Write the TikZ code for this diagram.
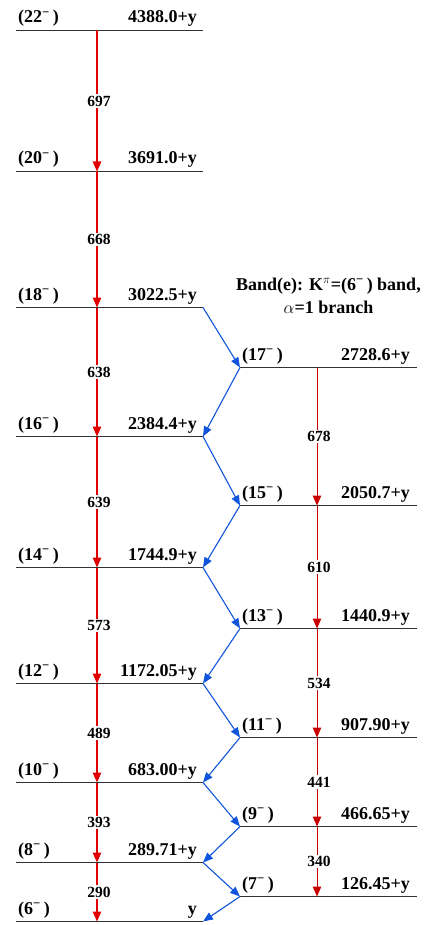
\documentclass[tikz,border=0pt]{standalone}
\usepackage{fontspec}
\setmainfont{Liberation Serif}
\usetikzlibrary{arrows.meta}
\definecolor{gred}{RGB}{225,0,0}
\definecolor{gdred}{RGB}{200,0,0}
\definecolor{gblue}{RGB}{17,85,221}
\definecolor{lvl}{RGB}{50,50,50}
\newcommand{\spinlab}[1]{(#1\textsuperscript{−}\,)}
\begin{document}
\begin{tikzpicture}[x=1pt,y=-1pt,
  level/.style={draw=lvl,line width=1.3pt},
  lab/.style={font=\fontsize{18}{20}\selectfont\bfseries,inner sep=0pt},
  glab/.style={font=\fontsize{15.5}{17}\selectfont\bfseries,fill=white,inner sep=1.5pt},
  redtr/.style={draw=gred,line width=1.3pt,-{Triangle[length=10pt,width=8.5pt]}},
  redtrr/.style={draw=gdred,line width=1.0pt,-{Triangle[length=10pt,width=8.5pt]}},
  bluetr/.style={draw=gblue,line width=1.1pt,-{Triangle[length=10pt,width=8pt]}}]
\useasboundingbox (0,0) rectangle (430,925);
% left levels
\foreach \s/\y/\e in {22/30.5/4388.0+y,20/171.5/3691.0+y,18/307.5/3022.5+y,16/436.5/2384.4+y,14/567.5/1744.9+y,12/683.5/1172.05+y,10/782.5/683.00+y,8/862.5/289.71+y,6/921.5/y}{
  \coordinate (A\s) at (16,\y);
  \coordinate (B\s) at (203,\y);
  \coordinate (G\s) at (97,\y);
  \draw[level] (A\s) -- (B\s);
  \node[lab,anchor=base west] (S\s) at (18,\y-7.5) {\spinlab{\s}};
  \node[lab,anchor=base east] (E\s) at (197,\y-7.5) {\e};
}
% right levels
\foreach \s/\y/\e in {17/367.5/2728.6+y,15/505.5/2050.7+y,13/628.5/1440.9+y,11/737.5/907.90+y,9/826.5/466.65+y,7/896.5/126.45+y}{
  \coordinate (A\s) at (240,\y);
  \coordinate (B\s) at (417,\y);
  \coordinate (G\s) at (317,\y);
  \draw[level] (A\s) -- (B\s);
  \node[lab,anchor=base west] (S\s) at (242,\y-7.5) {\spinlab{\s}};
  \node[lab,anchor=base east] (E\s) at (410,\y-7.5) {\e};
}
% title
\node[lab,align=center] (title) at (328.5,295.5) {Band(e): K\textsuperscript{$\pi$}=(6\textsuperscript{−}\,) band,\\[3pt]$\alpha$=1 branch};
% left E2 transitions
\foreach \a/\b/\g in {22/20/697,20/18/668,18/16/638,16/14/639,14/12/573,12/10/489,10/8/393,8/6/290}{
  \draw[redtr] (G\a) -- node[glab,xshift=2pt] (T\a) {\g} (G\b);
}
% right E2 transitions
\foreach \a/\b/\g in {17/15/678,15/13/610,13/11/534,11/9/441,9/7/340}{
  \draw[redtrr] (G\a) -- node[glab,xshift=2pt] (T\a) {\g} (G\b);
}
% M1 cascade
\foreach \a/\b in {18/17,16/15,14/13,12/11,10/9,8/7}{
  \draw[bluetr] (B\a) -- (A\b);
}
\foreach \a/\b in {17/16,15/14,13/12,11/10,9/8,7/6}{
  \draw[bluetr] (A\a) -- (B\b);
}
\end{tikzpicture}
\end{document}
